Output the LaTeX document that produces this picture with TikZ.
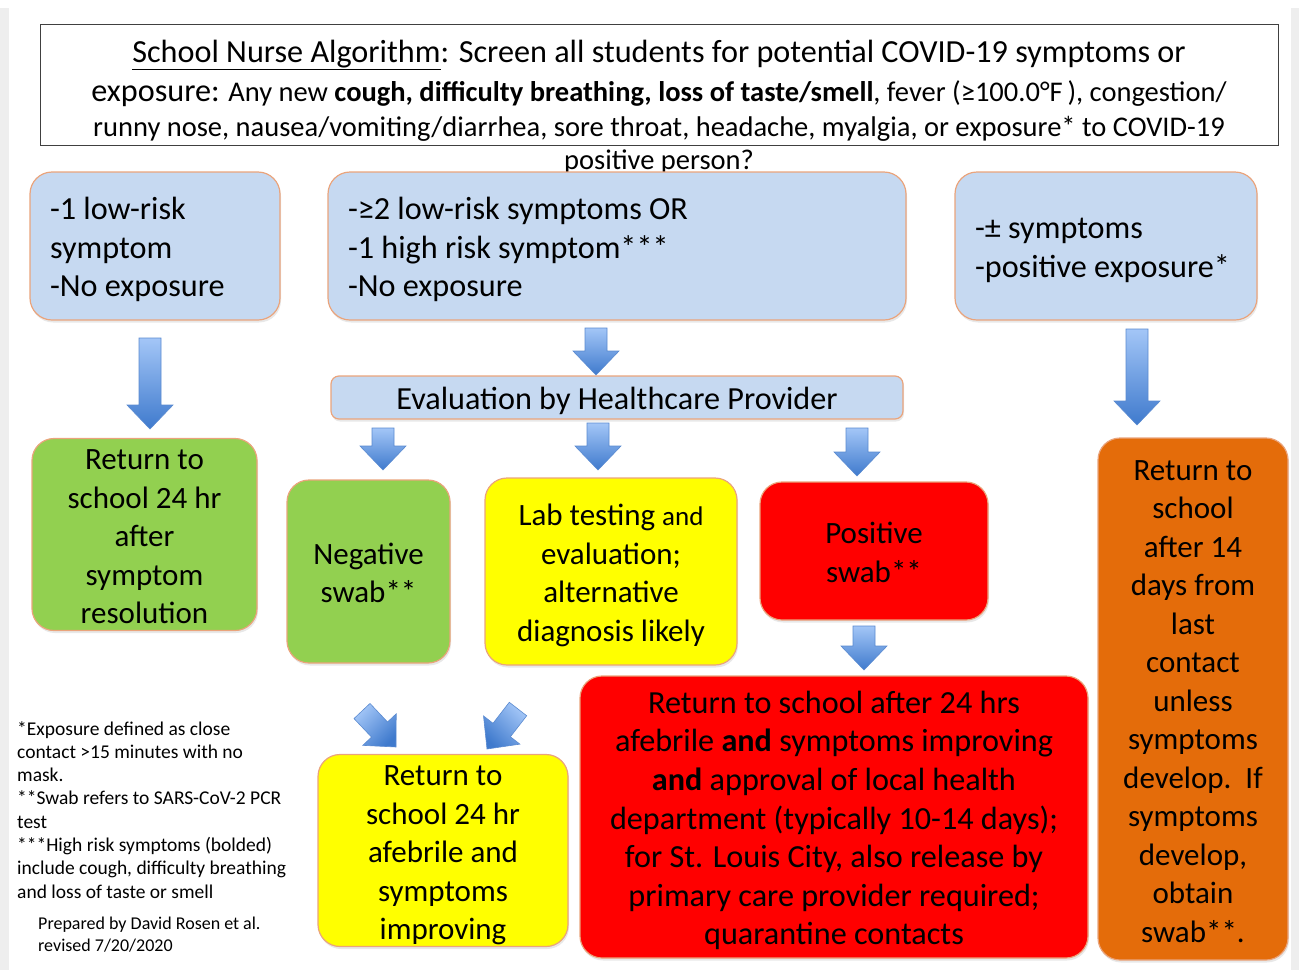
\documentclass[tikz,border=0pt]{standalone}
\usepackage{fontspec}
\setmainfont{Carlito}
\usetikzlibrary{calc,shadows}

\definecolor{boxblue}{HTML}{C6D9F1}
\definecolor{boxedge}{HTML}{EAA47C}
\definecolor{okgreen}{HTML}{92D050}
\definecolor{labyellow}{HTML}{FFFF00}
\definecolor{posred}{HTML}{FF0000}
\definecolor{waitorange}{HTML}{E46C0A}
\definecolor{arrowtop}{HTML}{A3C6F7}
\definecolor{arrowbot}{HTML}{3F7ACD}
\definecolor{arrowedge}{HTML}{5A8AD0}
\definecolor{pagegray}{HTML}{EEEEEE}

\newcommand{\boxfont}{\fontsize{31pt}{38.5pt}\selectfont}
\newcommand{\bigboxfont}{\fontsize{32.2pt}{38.6pt}\selectfont}
\newcommand{\hdrfont}{\fontsize{28.5pt}{34pt}\selectfont}
\newcommand{\notefont}{\fontsize{19.5pt}{23.3pt}\selectfont}

% block arrow: tail #2, tip #3
\newcommand{\fatarrow}[3][]{%
  \shade[fatarrow,#1] ($(#2)!11pt!90:(#3)$)
    -- ($(#3)!24pt!(#2)!11pt!90:(#3)$) -- ($(#3)!24pt!(#2)!23pt!90:(#3)$)
    -- (#3)
    -- ($(#3)!24pt!(#2)!23pt!-90:(#3)$) -- ($(#3)!24pt!(#2)!11pt!-90:(#3)$)
    -- ($(#2)!11pt!-90:(#3)$) -- cycle;}

\tikzset{
  card/.style={rounded corners=22pt, draw=boxedge, line width=1.2pt, inner sep=0pt,
    font=\boxfont, drop shadow={shadow xshift=1pt, shadow yshift=-2.5pt, opacity=0.18},
    execute at begin node={\rule{0pt}{31pt}}, execute at end node={\rule[-7pt]{0pt}{7pt}}},
  riskcard/.style={card, fill=boxblue, font=\bigboxfont, align=flush left, inner xsep=20pt, minimum height=148pt},
  outcard/.style={card, align=flush center, inner xsep=4pt},
  fatarrow/.style={top color=arrowtop, bottom color=arrowbot, draw=arrowedge, line width=0.6pt},
}

\begin{document}
\begin{tikzpicture}[x=1pt, y=-1pt]
  \useasboundingbox (0,0) rectangle (1299,970);
  \fill[pagegray] (0,8) rectangle (9,970);
  \fill[pagegray] (1291,8) rectangle (1299,970);

  % screening question
  \draw[line width=1pt, black!75] (40,24) rectangle (1278,145);
  \node[anchor=base, inner sep=0pt, font=\bigboxfont] (hdrA) at (659,62)
    {\underline{School Nurse Algorithm}: Screen all students for potential COVID-19 symptoms or};
  \node[anchor=base, inner sep=0pt, font=\hdrfont] (hdrB) at (659,101)
    {{\bigboxfont exposure:} Any new \textbf{cough, difficulty breathing, loss of taste/smell}, fever (≥100.0°F\,), congestion/};
  \node[anchor=base, inner sep=0pt, font=\hdrfont] (hdrC) at (659,136)
    {runny nose, nausea/vomiting/diarrhea, sore throat, headache, myalgia, or exposure* to COVID-19};
  \node[anchor=base, inner sep=0pt, font=\hdrfont] (hdrD) at (659,169) {positive person?};

  % screening outcomes
  \node[riskcard, text width=210pt] (lowrisk) at (155,246)
    {-1 low-risk\\symptom\\-No exposure};
  \node[riskcard, text width=538pt] (highrisk) at (617,246)
    {-≥2 low-risk symptoms OR\\-1 high risk symptom***\\-No exposure};
  \node[riskcard, text width=262pt] (exposed) at (1106,246)
    {-± symptoms\\-positive exposure*};
  \node[card, fill=boxblue, rounded corners=8pt, font=\bigboxfont, align=flush center, text width=564pt,
    minimum height=43pt, inner xsep=4pt,
    execute at begin node={\rule{0pt}{27pt}}, execute at end node={\rule[-7pt]{0pt}{7pt}}] (evalhcp)
    at (617,397.5) {Evaluation by Healthcare Provider};

  % results
  \node[outcard, fill=okgreen, text width=217pt, minimum height=185pt] (backA) at (144.5,534.5)
    {Return to\\school 24 hr\\after\\symptom\\resolution};
  \node[outcard, fill=okgreen, text width=155pt, minimum height=183pt] (negswab) at (368.5,571.5)
    {Negative\\swab**};
  \node[outcard, fill=labyellow, text width=244pt, minimum height=187pt] (labtest) at (611,571.5)
    {Lab testing {\fontsize{27pt}{38.5pt}\selectfont and}\\evaluation;\\alternative\\diagnosis likely};
  \node[outcard, fill=posred, text width=220pt, minimum height=138pt] (posswab) at (874,551)
    {Positive\\swab**};
  \node[outcard, fill=waitorange, text width=182pt, minimum height=522pt] (quarantine) at (1193,699)
    {Return to\\school\\after 14\\days from\\last\\contact\\unless\\symptoms\\develop.~~If\\symptoms\\develop,\\obtain\\swab**.};
  \node[outcard, fill=labyellow, text width=242pt, minimum height=185pt] (backB) at (443,850.5)
    {Return to\\school 24 hr\\afebrile and\\symptoms\\improving};
  \node[outcard, fill=posred, font=\bigboxfont, text width=500pt, minimum height=282pt] (isolate) at (834,817)
    {Return to school after 24 hrs\\afebrile \textbf{and} symptoms improving\\\textbf{and} approval of local health\\department (typically 10-14 days);\\for St. Louis City, also release by\\primary care provider required;\\quarantine contacts};

  % footnotes
  \node[anchor=north west, inner sep=0pt, align=left, font=\notefont] (notes) at (17,721)
    {*Exposure defined as close\\contact >15 minutes with no\\mask.\\**Swab refers to SARS-CoV-2 PCR\\test\\***High risk symptoms (bolded)\\include cough, difficulty breathing\\and loss of taste or smell};
  \node[anchor=north west, inner sep=0pt, align=left, font=\fontsize{18pt}{22pt}\selectfont] (prepared)
    at (38,917) {Prepared by David Rosen et al.\\revised 7/20/2020};

  % arrows
  \coordinate (aA1) at (150,338);  \coordinate (aA2) at (150,429);
  \coordinate (aB1) at (596,328);  \coordinate (aB2) at (596,375);
  \coordinate (aC1) at (1137,329); \coordinate (aC2) at (1137,425);
  \coordinate (aN1) at (383,428);  \coordinate (aN2) at (383,470);
  \coordinate (aL1) at (598,423);  \coordinate (aL2) at (598,470);
  \coordinate (aP1) at (857,428);  \coordinate (aP2) at (857,476);
  \coordinate (aI1) at (864,626);  \coordinate (aI2) at (864,670);
  \coordinate (aD1) at (362,711);  \coordinate (aD2) at (396,747);
  \coordinate (aE1) at (518,709);  \coordinate (aE2) at (487,749);
  \fatarrow{aA1}{aA2}
  \fatarrow{aB1}{aB2}
  \fatarrow{aC1}{aC2}
  \fatarrow{aN1}{aN2}
  \fatarrow{aL1}{aL2}
  \fatarrow{aP1}{aP2}
  \fatarrow{aI1}{aI2}
  \fatarrow[shading angle=45]{aD1}{aD2}
  \fatarrow[shading angle=-45]{aE1}{aE2}
\end{tikzpicture}
\end{document}
